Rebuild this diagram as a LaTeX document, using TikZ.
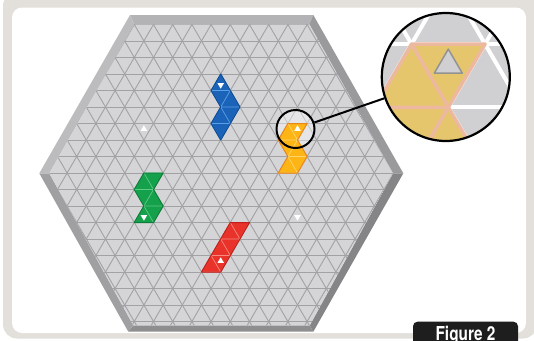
\documentclass[tikz,border=0pt]{standalone}
\usepackage{fontspec}
\usepackage{graphicx}
\newfontfamily\herosfont{TeX Gyre Heros}
\definecolor{bandgray}{HTML}{E3E0DB}
\definecolor{boardfill}{HTML}{D5D5D7}
\definecolor{gridgray}{HTML}{A2A2A4}
\definecolor{frT}{HTML}{B3B3B5}
\definecolor{frUL}{HTML}{BCBCBE}
\definecolor{frLL}{HTML}{A0A0A2}
\definecolor{frB}{HTML}{8E8E90}
\definecolor{frLR}{HTML}{858587}
\definecolor{frUR}{HTML}{9A9A9C}
\definecolor{bluefill}{HTML}{1B63B8}
\definecolor{bluelight}{HTML}{5AA0E6}
\definecolor{bluedark}{HTML}{0F4C96}
\definecolor{orfill}{HTML}{FDB515}
\definecolor{orlight}{HTML}{FED56C}
\definecolor{ordark}{HTML}{E8861C}
\definecolor{grfill}{HTML}{15A04C}
\definecolor{grlight}{HTML}{5CCB85}
\definecolor{grdark}{HTML}{0B7D38}
\definecolor{rdfill}{HTML}{E8322A}
\definecolor{rdlight}{HTML}{F58A7E}
\definecolor{rddark}{HTML}{C01E18}
\definecolor{magyellow}{HTML}{E6C66C}
\definecolor{magpink}{HTML}{ECB8A0}
\definecolor{maggray}{HTML}{D0D0D2}
\definecolor{figbox}{HTML}{1E1E1E}
\newcommand\uptri[2]{(#1,#2) -- ++(1,0) -- ++(-1,1) -- cycle}
\newcommand\dntri[2]{(#1,#2) -- ++(0,1) -- ++(-1,0) -- cycle}
\newcommand\msz{0.34}
\newcommand\upmark[3]{({#1-#3/3},{#2-#3/3}) -- ++(#3,0) -- ++(-#3,#3) -- cycle}
\newcommand\dnmark[3]{({#1+#3/3},{#2-2*#3/3}) -- ++(0,#3) -- ++(-#3,0) -- cycle}
\newcommand\drawpiece[4]{\fill[#1] #4; \draw[#2, line width=0.7pt, line join=round] #4;}
\begin{document}
\begin{tikzpicture}[x=1pt,y=-1pt,
  latt/.style={shift={(220.7,173)}, x={(19.2pt,0pt)}, y={(9.6pt,16.5pt)}},
  gridline/.style={draw=gridgray, line width=0.9pt},
  magline/.style={draw=white, line width=4pt},
  outline/.style={line width=1pt, line join=round},
  lensring/.style={circle, draw=black, inner sep=0pt, fill=none},
  marker/.style={fill=white}]
\useasboundingbox (0,0) rectangle (534,340);
\clip (0,0) rectangle (534,340);
% background frame
\fill[white] (0,0) rectangle (534,340);
\fill[bandgray, rounded corners=14pt] (3,-8) rectangle (537,338.5);
\fill[white, rounded corners=10pt] (12,7.5) rectangle (526,333);
% hexagon frame
\coordinate (o1) at (130,15);
\coordinate (o2) at (313.3,15);
\coordinate (o3) at (403.3,173.3);
\coordinate (o4) at (313.3,331.7);
\coordinate (o5) at (128.3,331.7);
\coordinate (o6) at (39.3,173.3);
\coordinate (n1) at (134.3,24.3);
\coordinate (n2) at (309.3,24.3);
\coordinate (n3) at (393,173.3);
\coordinate (n4) at (309.8,325.3);
\coordinate (n5) at (133.3,325.3);
\coordinate (n6) at (49.3,173.3);
\fill[frT] (o1)--(o2)--(n2)--(n1)--cycle;
\fill[frUR] (o2)--(o3)--(n3)--(n2)--cycle;
\fill[frLR] (o3)--(o4)--(n4)--(n3)--cycle;
\fill[frB] (o4)--(o5)--(n5)--(n4)--cycle;
\fill[frLL] (o5)--(o6)--(n6)--(n5)--cycle;
\fill[frUL] (o6)--(o1)--(n1)--(n6)--cycle;
\fill[boardfill] (n1)--(n2)--(n3)--(n4)--(n5)--(n6)--cycle;
\begin{scope}
  \clip (n1)--(n2)--(n3)--(n4)--(n5)--(n6)--cycle;
  \begin{scope}[latt]
    \foreach \k in {-10,...,10} {
      \draw[gridline] (-25,\k) -- (25,\k);
      \draw[gridline] (\k,-25) -- (\k,25);
      \draw[gridline] (\k+25,-25) -- (\k-25,25);
    }
  \end{scope}
\end{scope}
% lens highlight
\fill[white, opacity=0.4] (295.5,129) circle (19);
% pieces and markers
\begin{scope}[latt]
  \drawpiece{bluefill}{bluelight}{bluedark}{\uptri{-3}{5} \dntri{-2}{4} \uptri{-2}{4} \dntri{-1}{3} \uptri{-2}{3} \dntri{-1}{2}}
  \draw[bluedark, outline] (-3,6)--(-2,5)--(-1,4)--(-1,3)--(-1,2)--(-2,3)--(-2,4)--(-3,5)--cycle;
  \drawpiece{orfill}{orlight}{ordark}{\dntri{3}{2} \uptri{2}{2} \dntri{3}{1} \uptri{3}{1} \dntri{4}{0} \uptri{3}{0}}
  \draw[ordark, outline] (2,3)--(3,3)--(3,2)--(4,1)--(4,0)--(3,0)--(3,1)--(2,2)--cycle;
  \drawpiece{grfill}{grlight}{grdark}{\dntri{-3}{-1} \uptri{-4}{-1} \dntri{-3}{-2} \uptri{-3}{-2} \dntri{-2}{-3} \uptri{-3}{-3}}
  \draw[grdark, outline] (-4,0)--(-3,0)--(-3,-1)--(-2,-2)--(-2,-3)--(-3,-3)--(-3,-2)--(-4,-1)--cycle;
  \drawpiece{rdfill}{rdlight}{rddark}{\uptri{2}{-6} \dntri{3}{-6} \uptri{2}{-5} \dntri{3}{-5} \uptri{2}{-4} \dntri{3}{-4}}
  \draw[rddark, outline] (2,-6)--(3,-6)--(3,-3)--(2,-3)--cycle;
  \fill[marker] \dnmark{-8/3}{16/3}{\msz};
  \fill[marker] \upmark{8/3}{8/3}{\msz};
  \fill[marker] \dnmark{-8/3}{-8/3}{\msz};
  \fill[marker] \upmark{8/3}{-16/3}{\msz};
  \fill[marker] \upmark{-16/3}{8/3}{\msz};
  \fill[marker] \dnmark{16/3}{-8/3}{\msz};
\end{scope}
% magnified view
\begin{scope}
  \clip (445.8,77) circle (64);
  \fill[white] (445.8,77) circle (64);
  \begin{scope}[shift={(445.8,77)}, scale=3.83, shift={(-296.85,-132.1)}]
    \fill[maggray] (270,110) rectangle (325,155);
    \begin{scope}[latt]
      \foreach \k in {-3,...,12} {
        \draw[magline] (-6,\k) -- (12,\k);
        \draw[magline] (\k,-6) -- (\k,12);
        \draw[magline] (\k+12,-12) -- (\k-12,12);
      }
      \fill[magyellow] \dntri{3}{2} \uptri{2}{2} \dntri{3}{1} \uptri{3}{1} \dntri{4}{0} \uptri{3}{0};
      \draw[magpink, line width=3.5pt, line join=round] \dntri{3}{2} \uptri{2}{2} \dntri{3}{1} \uptri{3}{1} \dntri{4}{0} \uptri{3}{0};
      \filldraw[fill=maggray, draw=gray!85, line width=1.5pt, line join=round] \upmark{8/3}{8/3}{0.38};
    \end{scope}
  \end{scope}
\end{scope}
\node[lensring, minimum size=128pt, line width=2.2pt] (mag) at (445.8,77) {};
\node[lensring, minimum size=38pt, line width=2pt] (lens) at (295.5,129) {};
\draw[line width=2pt] (lens) -- (mag);
% figure label
\fill[figbox, rounded corners=4.5pt] (413,350) rectangle (518,321.7);
\node[font={\herosfont\bfseries\fontsize{19.2}{20}\selectfont}, text=white, anchor=base, inner sep=0pt] (figlabel) at (465.5,340.5) {\scalebox{0.8}[1]{Figure 2}};
\end{tikzpicture}
\end{document}
